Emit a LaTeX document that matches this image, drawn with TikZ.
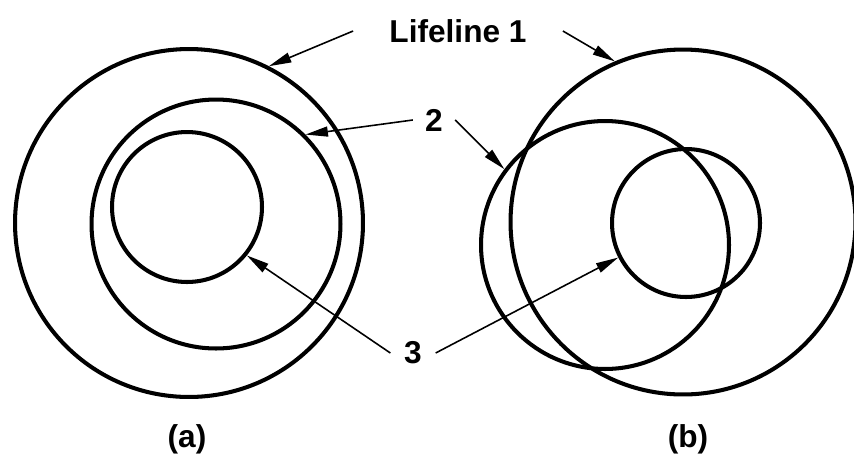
\documentclass[tikz,border=0pt]{standalone}
\usepackage{fontspec}
\setmainfont{Liberation Sans}
\usetikzlibrary{arrows.meta}
\tikzset{
  ring/.style={draw, circle, line width=2.3pt, inner sep=0pt},
  lbl/.style={font=\fontsize{18}{21}\selectfont\bfseries, inner ysep=0pt},
  arr/.style={-{Triangle[length=4.5mm,width=2mm]}, line width=0.9pt},
}
\begin{document}
\begin{tikzpicture}[x=0.02cm, y=-0.02cm]
    \useasboundingbox (0,0) rectangle (854,454);
    \node[ring, minimum size=6.96cm] (oa) at (189,223) {};
    \node[ring, minimum size=4.98cm] (ma) at (216,224) {};
    \node[ring, minimum size=3.0cm] (ia) at (187,207) {};
    \node[ring, minimum size=6.9cm] (ob) at (683,222) {};
    \node[ring, minimum size=4.96cm] (mb) at (605,245) {};
    \node[ring, minimum size=2.96cm] (ib) at (686,223) {};
    \node[lbl, inner xsep=0.72cm] (life) at (458,31) {Lifeline 1};
    \node[lbl, inner xsep=0.24cm] (two) at (434,120) {2};
    \node[lbl, inner xsep=0.27cm] (three) at (413,353) {3};
    \draw[arr] (life.west) -- (oa.63);
    \draw[arr] (life.east) -- (ob.113);
    \draw[arr] (two.west) -- (ma.45);
    \draw[arr] (two.east) -- (mb.143);
    \draw[arr] (three.west) -- (ia.-39);
    \draw[arr] (three.east) -- (ib.207);
    \node[lbl] (capa) at (187,439) {(a)};
    \node[lbl] (capb) at (688,439) {(b)};
  \end{tikzpicture}
\end{document}
